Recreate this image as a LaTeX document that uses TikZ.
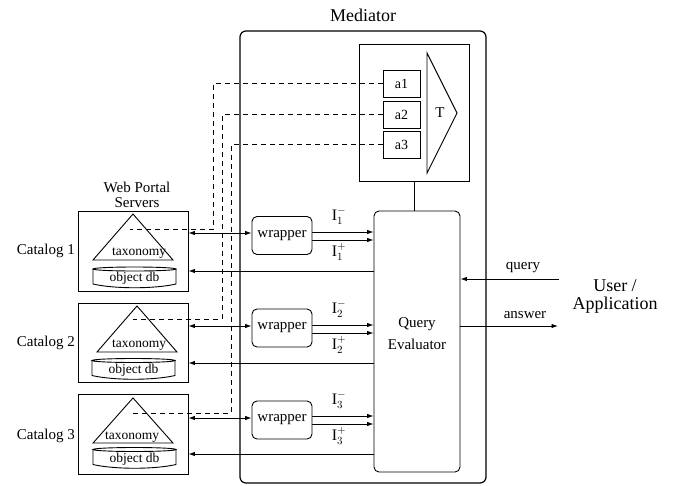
\documentclass[tikz,border=0pt]{standalone}
\usepackage{fontspec}
\setmainfont{Liberation Serif}
\usetikzlibrary{arrows.meta}
\begin{document}
\begin{tikzpicture}[x=1pt,y=-1pt,
  every node/.style={font=\fontsize{15}{17}\selectfont},
  box/.style={draw, line width=0.9pt, inner sep=0pt},
  rbox/.style={box, rounded corners=5pt},
  lbl/.style={inner sep=0pt},
  small/.style={font=\fontsize{13.5}{15}\selectfont},
  conn/.style={line width=0.9pt},
  arr/.style={conn,-{Latex[length=6.5pt,width=4.5pt]}},
  darr/.style={conn,{Latex[length=6.5pt,width=4.5pt]}-{Latex[length=6.5pt,width=4.5pt]}},
  dsh/.style={line width=0.8pt, dash pattern=on 5pt off 4pt},
  dbshape/.pic={
    \draw[conn] (-41.5,-8) -- (-41.5,7) .. controls (-20,12) and (20,12) .. (41.5,7) -- (41.5,-8);
    \draw[conn] (0,-8) ellipse (41.5pt and 2pt);
  },
  taxshape/.pic={
    \draw[conn] (0,-23) -- (40,23) -- (-40,23) -- cycle;
  },
  ]
\useasboundingbox (0,0) rectangle (675,485);

% Mediator
\node[box, rounded corners=6pt, line width=1.2pt, minimum width=246pt, minimum height=452pt] (med) at (363,257) {};
\node[lbl, font=\fontsize{18}{20}\selectfont] (medlbl) at (363,15) {Mediator};

% T box
\node[box, minimum width=110pt, minimum height=137pt] (tbox) at (414,112.5) {};
\node[box, minimum width=37pt, minimum height=27pt, font=\fontsize{14}{16}\selectfont] (a1) at (401.5,83.5) {a1};
\node[box, minimum width=37pt, minimum height=27pt, font=\fontsize{14}{16}\selectfont] (a2) at (401.5,114.5) {a2};
\node[box, minimum width=37pt, minimum height=27pt, font=\fontsize{14}{16}\selectfont] (a3) at (401.5,144.5) {a3};
\draw[conn] (427,53) -- (457,113) -- (427,173) -- cycle;
\node[lbl] (tlbl) at (440,113) {T};

% Query evaluator
\node[rbox, minimum width=86pt, minimum height=261pt] (qe) at (417,341.5) {};
\node[lbl, align=center, font=\fontsize{15}{22}\selectfont] (qelbl) at (417,334) {Query\\Evaluator};
\draw[conn] (tbox.south) -- (tbox.south |- qe.north);

% Wrappers
\node[rbox, minimum width=60pt, minimum height=38pt] (w1) at (282,235.5) {wrapper};
\node[rbox, minimum width=60pt, minimum height=38pt] (w2) at (282,328) {wrapper};
\node[rbox, minimum width=60pt, minimum height=38pt] (w3) at (282,420) {wrapper};

% Catalogs
\node[lbl, align=center, font=\fontsize{15}{15.5}\selectfont] (wps) at (137,195) {Web Portal\\Servers};
\node[box, minimum width=110pt, minimum height=80pt] (c1) at (133,251) {};
\node[box, minimum width=110pt, minimum height=79pt] (c2) at (133,342.5) {};
\node[box, minimum width=110pt, minimum height=80pt] (c3) at (133,434) {};
\node[lbl, anchor=east] (cl1) at (75,251) {Catalog 1};
\node[lbl, anchor=east] (cl2) at (75,343) {Catalog 2};
\node[lbl, anchor=east] (cl3) at (75,436) {Catalog 3};

\pic at (133,237) {taxshape};
\pic at (137,329) {taxshape};
\pic[yscale=0.98] at (133,420.5) {taxshape};
\node[lbl, small] (tx1) at (139,253) {taxonomy};
\node[lbl, small] (tx2) at (139,345) {taxonomy};
\node[lbl, small] (tx3) at (132,437) {taxonomy};

\pic at (134.5,277) {dbshape};
\pic at (133.5,368.5) {dbshape};
\pic at (134.5,457.5) {dbshape};
\node[lbl, small] (db1) at (134.5,278.5) {object db};
\node[lbl, small] (db2) at (133.5,370) {object db};
\node[lbl, small] (db3) at (134.5,459.5) {object db};

% dashed links
\coordinate (d1) at (130,229.5);
\coordinate (d2) at (133,319);
\coordinate (d3) at (133,413);
\draw[dsh] (a1.west) -| (213,229.5) -- (d1);
\draw[dsh] (a2.west) -| (222,319) -- (d2);
\draw[dsh] (a3.west) -| (231,413) -- (d3);

% rows
\coordinate (k1) at (0,233); \coordinate (m1) at (0,232); \coordinate (p1) at (0,240); \coordinate (b1) at (0,271);
\coordinate (k2) at (0,326); \coordinate (m2) at (0,325); \coordinate (p2) at (0,333); \coordinate (b2) at (0,363);
\coordinate (k3) at (0,418); \coordinate (m3) at (0,416); \coordinate (p3) at (0,424); \coordinate (b3) at (0,454);

\draw[darr] (c1.east |- k1) -- (w1.west |- k1);
\draw[arr] (w1.east |- m1) -- (qe.west |- m1);
\draw[arr] (w1.east |- p1) -- (qe.west |- p1);
\draw[arr] (qe.west |- b1) -- (c1.east |- b1);

\draw[darr] (c2.east |- k2) -- (w2.west |- k2);
\draw[arr] (w2.east |- m2) -- (qe.west |- m2);
\draw[arr] (w2.east |- p2) -- (qe.west |- p2);
\draw[arr] (qe.west |- b2) -- (c2.east |- b2);

\draw[darr] (c3.east |- k3) -- (w3.west |- k3);
\draw[arr] (w3.east |- m3) -- (qe.west |- m3);
\draw[arr] (w3.east |- p3) -- (qe.west |- p3);
\draw[arr] (qe.west |- b3) -- (c3.east |- b3);

\tikzset{ilbl/.style={lbl, font=\fontsize{16}{18}\selectfont}}
\node[ilbl] (i1m) at (339,216) {$\mathrm{I}_1^-$};
\node[ilbl] (i1p) at (339,252) {$\mathrm{I}_1^+$};
\node[ilbl] (i2m) at (339,309) {$\mathrm{I}_2^-$};
\node[ilbl] (i2p) at (339,345) {$\mathrm{I}_2^+$};
\node[ilbl] (i3m) at (339,400) {$\mathrm{I}_3^-$};
\node[ilbl] (i3p) at (339,436) {$\mathrm{I}_3^+$};

% user
\coordinate (qsrc) at (559,279);
\coordinate (adst) at (558,326);
\draw[arr] (qsrc) -- (qe.east |- qsrc);
\draw[arr] (qe.east |- adst) -- (adst);
\node[lbl] (qlbl) at (523,268) {query};
\node[lbl] (albl) at (525,315) {answer};
\node[lbl, align=center, font=\fontsize{18}{18}\selectfont] (user) at (615,296) {User /\\Application};
\end{tikzpicture}
\end{document}
